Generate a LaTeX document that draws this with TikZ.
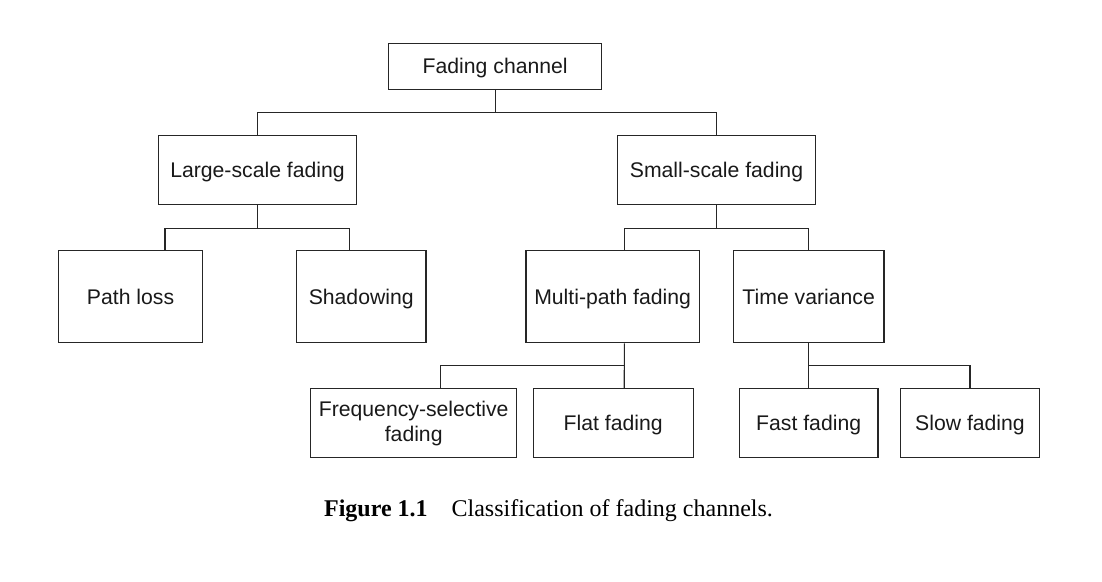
\documentclass[tikz,border=0pt]{standalone}
\usepackage{fontspec}
\setmainfont{Liberation Serif}
\setsansfont{Liberation Sans}
\usetikzlibrary{positioning, calc}
\tikzset{
  box/.style = {draw=black!85, line width=0.6pt, rectangle, align=center,
    inner sep=1pt, text=black!90, text height=7.4pt, text depth=0pt,
    font=\sffamily\fontsize{10.6}{12.5}\selectfont},
  link/.style = {draw=black!85, line width=0.6pt}
}

\begin{document}
\begin{tikzpicture}[x=0.5pt, y=-0.5pt]
\useasboundingbox (0,0) rectangle (1102,582);
% top
\node [box, minimum width=106.6pt, minimum height=23pt] (fading) at (495.2,66.3) {Fading channel};
\node [box, minimum width=99.3pt, minimum height=34.4pt] (large) at (257.5,169.9) {Large-scale fading};
\node [box, minimum width=99.2pt, minimum height=34.4pt] (small) at (716.5,169.9) {Small-scale fading};
% second level
\node [box, minimum width=72pt, minimum height=46pt] (pathloss) at (130.55,296.7) {Path loss};
\node [box, minimum width=64.8pt, minimum height=46pt] (shadow) at (361.2,296.7) {Shadowing};
\node [box, minimum width=86.7pt, minimum height=46pt] (multipath) at (612.65,296.7) {Multi-path fading};
\node [box, minimum width=75.3pt, minimum height=46pt] (timevar) at (808.65,296.7) {Time variance};
% third level
\node [box, text height={}, text depth={}, minimum width=103.1pt, minimum height=34.5pt] (freq) at (413.7,423.3) {Frequency-selective\\fading};
\node [box, minimum width=80.1pt, minimum height=34.5pt] (flat) at (613.2,423.3) {Flat fading};
\node [box, minimum width=69.3pt, minimum height=34.5pt] (fast) at (808.65,423.3) {Fast fading};
\node [box, minimum width=69.3pt, minimum height=34.5pt] (slow) at (970,423.3) {Slow fading};

% connectors
\draw [link] (fading.south) -- ++(0,-11.5pt) coordinate (fj) -| (large.north);
\draw [link] (fj) -| (small.north);
\draw [link] (large.south) -- ++(0,-11.7pt) coordinate (lj) -| ($(pathloss.north)+(17.25pt,0)$);
\draw [link] (lj) -| ($(shadow.north)+(-5.8pt,0)$);
\draw [link] (small.south) -- ++(0,-11.7pt) coordinate (sj) -| ($(multipath.north)+(5.85pt,0)$);
\draw [link] (sj) -| (timevar.north);
\draw [link] ($(multipath.south)+(5.85pt,0)$) -- ++(0,-11.3pt) coordinate (mj) -- ($(flat.north)+(5.55pt,0)$);
\draw [link] (mj) -| ($(freq.north)+(13.4pt,0)$);
\draw [link] (timevar.south) -- ++(0,-11.3pt) coordinate (tj) -- (fast.north);
\draw [link] (tj) -| (slow.north);

% caption
\node [anchor=base, font=\fontsize{12}{14}\selectfont] (caption) at (548.5,516.7)
  {\textbf{Figure 1.1}\hspace{1em}Classification of fading channels.};
\end{tikzpicture}
\end{document}
